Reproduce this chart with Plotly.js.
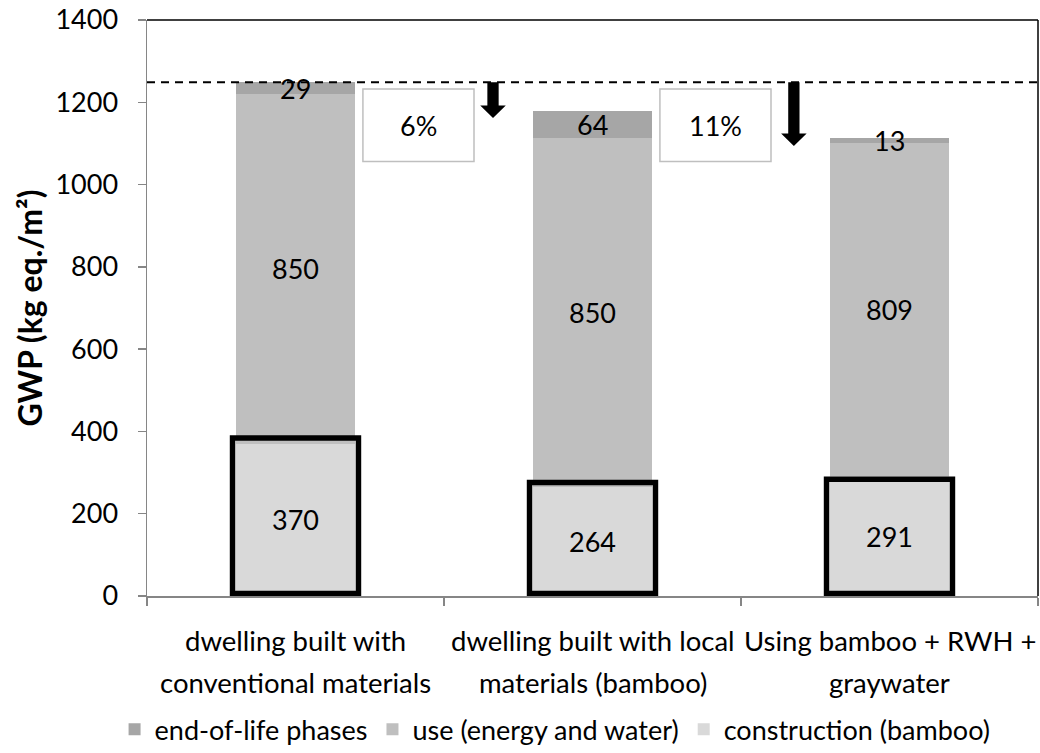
<!DOCTYPE html>
<html>
<head>
<meta charset="utf-8">
<script src="https://cdn.plot.ly/plotly-3.0.1.min.js"></script>
<style>html,body{margin:0;padding:0;background:#fff;}#chart{width:1040px;height:753px;}</style>
</head>
<body>
<div id="chart"></div>
<script>
// ---- data ----
var categories = [
  "dwelling built with<br>conventional materials",
  "dwelling built with local<br>materials (bamboo)",
  "Using bamboo + RWH +<br>graywater"
];
var construction = [370, 264, 291];
var useEnergyWater = [850, 850, 809];
var endOfLife = [29, 64, 13];
var seriesNames = ["construction (bamboo)", "use (energy and water)", "end-of-life phases"];
var yTicks = [0, 200, 400, 600, 800, 1000, 1200, 1400];
// highlight boxes drawn around the construction segments (top value, as read)
var highlightTop = [384, 276, 284];

// ---- styles ----
var FONT = "Lato, 'Open Sans', sans-serif";
var FS = 27;      // ticks and value labels
var FS_CAT = 27.5;  // category labels
var FS_LEG = 27;  // legend
var colors = ["#d9d9d9", "#bfbfbf", "#a6a6a6"];
var axisGrey = "#868686";

var series = [construction, useEnergyWater, endOfLife];
var traces = series.map(function (vals, k) {
  return {
    type: "bar",
    name: seriesNames[k],
    x: categories,
    y: vals,
    marker: {color: colors[k], line: {width: 0}},
    hoverinfo: "name+y"
  };
});

var totals = categories.map(function (c, i) {
  return construction[i] + useEnergyWater[i] + endOfLife[i];
});
var baseTotal = totals[0];

var annotations = [];
// value labels centred in each segment
categories.forEach(function (c, i) {
  var cum = 0;
  series.forEach(function (vals) {
    var v = vals[i];
    annotations.push({
      x: i, y: cum + v / 2, xref: "x", yref: "y",
      text: String(v), showarrow: false,
      font: {family: FONT, size: FS, color: "#000"}
    });
    cum += v;
  });
});
// category labels (two lines each)
categories.forEach(function (c, i) {
  var lines = c.split("<br>");
  lines.forEach(function (ln, j) {
    annotations.push({
      x: i, y: -0.077 - j * 0.073, xref: "x", yref: "paper",
      text: ln, showarrow: false, yanchor: "middle",
      font: {family: FONT, size: FS_CAT, color: "#000"}
    });
  });
});
// reduction percentages
var pctPos = [0.414, 1.414];
[1, 2].forEach(function (i, k) {
  var pct = Math.round((baseTotal - totals[i]) / baseTotal * 100);
  annotations.push({
    x: pctPos[k], y: 1144, xref: "x", yref: "y",
    text: pct + "%", showarrow: false,
    font: {family: FONT, size: FS, color: "#000"}
  });
});

var shapes = [];
// frame top and right
shapes.push({type: "line", xref: "paper", yref: "paper", x0: 0, x1: 1, y0: 1, y1: 1, line: {color: "#000", width: 1.5}});
shapes.push({type: "line", xref: "paper", yref: "paper", x0: 1, x1: 1, y0: 0, y1: 1, line: {color: "#000", width: 1.5}});
// dashed reference line at the conventional total
shapes.push({type: "line", xref: "paper", yref: "y", x0: 0, x1: 1, y0: baseTotal, y1: baseTotal,
  line: {color: "#000", width: 2, dash: "8px,6px"}, layer: "above"});
// highlight boxes
categories.forEach(function (c, i) {
  shapes.push({type: "rect", xref: "x", yref: "y", x0: i - 0.212, x1: i + 0.212, y0: 6, y1: highlightTop[i],
    line: {color: "#000", width: 5.5}, fillcolor: "rgba(0,0,0,0)", layer: "above"});
});
// percentage boxes
pctPos.forEach(function (p) {
  shapes.push({type: "rect", xref: "x", yref: "y", x0: p - 0.187, x1: p + 0.187, y0: 1056, y1: 1232,
    line: {color: "#bfbfbf", width: 1.5}, fillcolor: "#fff", layer: "above"});
});
// arrows (shaft + head)
function arrowPath(xc, yTop, yTip) {
  var sw = 0.019, hw = 0.043, hh = 30;
  return "M" + (xc - sw) + "," + yTop + " L" + (xc + sw) + "," + yTop +
    " L" + (xc + sw) + "," + (yTip + hh) + " L" + (xc + hw) + "," + (yTip + hh) +
    " L" + xc + "," + yTip + " L" + (xc - hw) + "," + (yTip + hh) +
    " L" + (xc - sw) + "," + (yTip + hh) + " Z";
}
shapes.push({type: "path", xref: "x", yref: "y", path: arrowPath(0.665, baseTotal, 1162), fillcolor: "#000", line: {width: 0}, layer: "above"});
shapes.push({type: "path", xref: "x", yref: "y", path: arrowPath(1.678, baseTotal, 1094), fillcolor: "#000", line: {width: 0}, layer: "above"});

var layout = {
  width: 1040, height: 753,
  margin: {l: 147, r: 2, t: 20, b: 157, autoexpand: false},
  paper_bgcolor: "#fff", plot_bgcolor: "#fff",
  barmode: "stack",
  bargap: 0.6,
  font: {family: FONT, size: FS, color: "#000"},
  showlegend: true,
  legend: {
    orientation: "h", traceorder: "reversed",
    x: 0.458, xanchor: "center",
    y: -0.232, yanchor: "middle",
    font: {family: FONT, size: FS_LEG, color: "#000"},
    itemwidth: 30, tracegroupgap: 0
  },
  xaxis: {
    type: "category",
    showticklabels: false,
    tickson: "boundaries",
    ticks: "outside", ticklen: 8, tickcolor: axisGrey, tickwidth: 1.5,
    showline: true, linecolor: axisGrey, linewidth: 1.5,
    showgrid: false, zeroline: false,
    range: [-0.5, 2.5], fixedrange: true
  },
  yaxis: {
    range: [0, 1400],
    tickvals: yTicks,
    ticks: "outside", ticklen: 8, tickcolor: axisGrey, tickwidth: 1.5,
    ticklabelstandoff: 14,
    showline: true, linecolor: axisGrey, linewidth: 1.5,
    showgrid: false, zeroline: false,
    tickfont: {family: FONT, size: FS, color: "#000"},
    title: {text: "<b>GWP (kg eq./m²)</b>", font: {family: FONT, size: 32, color: "#000"}, standoff: 3},
    fixedrange: true
  },
  shapes: shapes,
  annotations: annotations
};

Plotly.newPlot("chart", traces, layout, {displayModeBar: false, staticPlot: true});
</script>
</body>
</html>
